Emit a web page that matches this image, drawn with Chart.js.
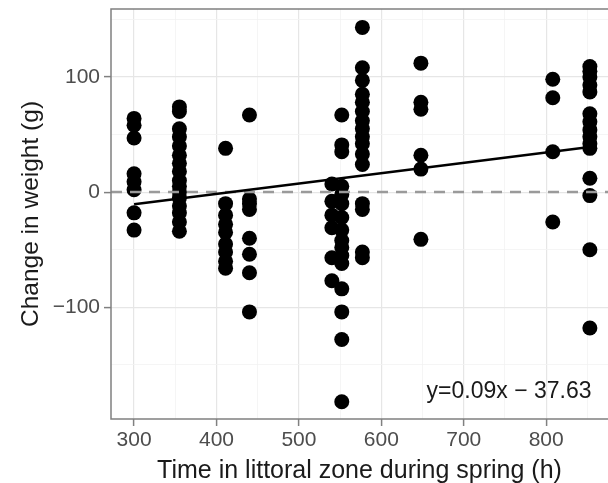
<!DOCTYPE html>
<html>
<head>
<meta charset="utf-8">
<script src="https://cdn.jsdelivr.net/npm/chart.js@4/dist/chart.umd.min.js"></script>
<style>
  html, body { margin: 0; padding: 0; background: #fff; }
  #wrap { width: 608px; height: 483px; }
</style>
</head>
<body>
<div id="wrap"><canvas id="weightChart" width="608" height="483"></canvas></div>
<script>
// time in littoral zone (h) for each group of fish
const hours = [300, 355, 411, 440, 540, 552, 577, 648, 808, 853];
// change in weight (g)
const weights = [
    [64, 58, 47, 16, 9, 2, -18, -33],
    [74, 70, 55, 48, 40, 32, 25, 18, 10, 5, 0, -5, -12, -18, -26, -34],
    [38, -10, -20, -28, -35, -45, -52, -60, -66],
    [67, -6, -10, -15, -40, -54, -70, -104],
    [7, -8, -20, -31, -57, -77],
    [67, 41, 35, 5, -2, -10, -22, -33, -42, -48, -55, -62, -84, -104, -128, -182],
    [143, 108, 97, 85, 78, 70, 62, 55, 48, 42, 33, 24, -10, -15, -52, -57],
    [112, 78, 72, 32, 20, -41],
    [98, 82, 35, -26],
    [109, 105, 100, 93, 87, 68, 61, 54, 48, 42, 38, 12, -3, -50, -118]
];
const xTicks = [300, 400, 500, 600, 700, 800];
const yTicks = [-100, 0, 100];
const slope = 0.09;
const intercept = -37.63;
const fitLabel = 'y=0.09x \u2212 37.63';

const points = [];
hours.forEach((h, i) => weights[i].forEach(w => points.push({ x: h, y: w })));

// the panel is cut off at the right edge of the picture
const xMin = 272, xMax = 875, yMin = -197, yMax = 159;
const fitStart = hours[0], fitEnd = hours[hours.length - 1];

const font = "'Liberation Sans', Arial, sans-serif";

function halfSteps(scale) {
    const ticks = [];
    for (let v = Math.ceil(scale.min / 50) * 50; v <= scale.max; v += 50) ticks.push({ value: v });
    scale.ticks = ticks;
}
function noPad(scale) {
    scale.paddingLeft = 0;
    scale.paddingRight = 0;
    scale.paddingTop = 0;
    scale.paddingBottom = 0;
}
const isMajor = (list, v) => list.includes(v);

const panelPlugin = {
    id: 'panel',
    afterDraw(chart) {
        const { ctx, chartArea: a, scales } = chart;
        ctx.save();
        ctx.strokeStyle = '#808080';
        ctx.lineWidth = 1.5;
        ctx.beginPath();
        ctx.moveTo(chart.width, a.top);
        ctx.lineTo(a.left, a.top);
        ctx.lineTo(a.left, a.bottom);
        ctx.lineTo(chart.width, a.bottom);
        ctx.stroke();

        ctx.fillStyle = '#1a1a1a';
        ctx.font = '23px ' + font;
        ctx.textAlign = 'center';
        ctx.textBaseline = 'middle';
        ctx.fillText(fitLabel, scales.x.getPixelForValue(755), scales.y.getPixelForValue(-173));

        ctx.font = '25px ' + font;
        ctx.textBaseline = 'alphabetic';
        ctx.fillText('Time in littoral zone during spring (h)', (a.left + a.right) / 2, 478);
        ctx.translate(38, (a.top + a.bottom) / 2);
        ctx.rotate(-Math.PI / 2);
        ctx.font = '24.5px ' + font;
        ctx.fillText('Change in weight (g)', 0, 0);
        ctx.restore();
    }
};

new Chart(document.getElementById('weightChart'), {
    type: 'scatter',
    data: {
        datasets: [
            {
                data: points,
                backgroundColor: '#000',
                borderWidth: 0,
                pointRadius: 7.5,
                pointHoverRadius: 7.5,
                order: 3
            },
            {
                type: 'line',
                data: [{ x: xMin, y: 0 }, { x: xMax, y: 0 }],
                borderColor: '#9a9a9a',
                borderWidth: 2.5,
                borderDash: [11, 8],
                pointRadius: 0,
                order: 2
            },
            {
                type: 'line',
                data: [
                    { x: fitStart, y: slope * fitStart + intercept },
                    { x: fitEnd, y: slope * fitEnd + intercept }
                ],
                borderColor: '#000',
                borderWidth: 2.5,
                pointRadius: 0,
                order: 1
            }
        ]
    },
    options: {
        responsive: false,
        animation: false,
        layout: { autoPadding: false, padding: { top: 9, right: 0, left: 0, bottom: 0 } },
        plugins: { legend: { display: false }, tooltip: { enabled: false } },
        scales: {
            x: {
                type: 'linear',
                min: xMin,
                max: xMax,
                afterBuildTicks: halfSteps,
                afterFit(scale) { scale.height = 64; noPad(scale); },
                border: { display: false },
                grid: {
                    color: c => isMajor(xTicks, c.tick.value) ? '#e6e6e6' : '#f3f3f3',
                    lineWidth: c => isMajor(xTicks, c.tick.value) ? 1.2 : 0.8,
                    tickColor: c => isMajor(xTicks, c.tick.value) ? '#808080' : 'rgba(0,0,0,0)',
                    tickLength: 7,
                    tickWidth: 1.5
                },
                ticks: {
                    autoSkip: false,
                    maxRotation: 0,
                    padding: 2,
                    color: '#4d4d4d',
                    font: { family: font, size: 21 },
                    callback: v => isMajor(xTicks, v) ? String(v) : ''
                }
            },
            y: {
                min: yMin,
                max: yMax,
                afterBuildTicks: halfSteps,
                afterFit(scale) { scale.width = 111; noPad(scale); },
                border: { display: false },
                grid: {
                    color: c => isMajor(yTicks, c.tick.value) ? '#e6e6e6' : '#f3f3f3',
                    lineWidth: c => isMajor(yTicks, c.tick.value) ? 1.2 : 0.8,
                    tickColor: c => isMajor(yTicks, c.tick.value) ? '#808080' : 'rgba(0,0,0,0)',
                    tickLength: 7,
                    tickWidth: 1.5
                },
                ticks: {
                    autoSkip: false,
                    padding: 4,
                    color: '#4d4d4d',
                    font: { family: font, size: 21 },
                    callback: v => isMajor(yTicks, v) ? String(v).replace('-', '\u2212') : ''
                }
            }
        }
    },
    plugins: [panelPlugin]
});
</script>
</body>
</html>
